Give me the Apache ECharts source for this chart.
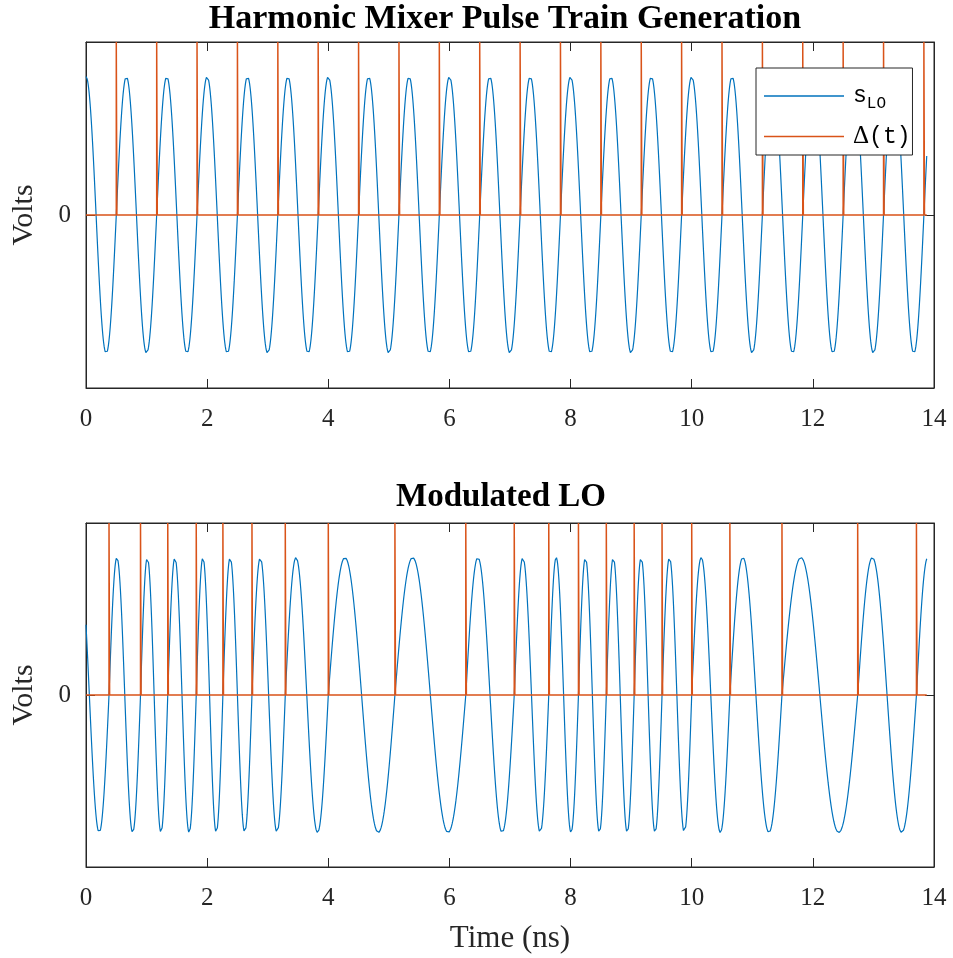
<!DOCTYPE html>
<html>
<head>
<meta charset="utf-8">
<title>Harmonic Mixer Pulse Train Generation</title>
<script src="https://cdn.jsdelivr.net/npm/echarts@6/dist/echarts.min.js"></script>
<style>
  html, body { margin: 0; padding: 0; background: #fff; }
  #chart { width: 953px; height: 958px; }
</style>
</head>
<body>
<div id="chart"></div>
<script>
// ---- data ----
const titles = ['Harmonic Mixer Pulse Train Generation', 'Modulated LO'];
const xTicks = [0, 2, 4, 6, 8, 10, 12, 14];      // ns
const yTicks = [0];                               // volts
const tEnd = 13.88;                               // last sample time, ns
const loAmplitude = 1;                            // volts
const loFreqTop = 1.5;                            // GHz, unmodulated LO
// pulse instants (rising zero crossings of the LO), ns
const pulsesTop = [0.5, 1.167, 1.833, 2.5, 3.167, 3.833, 4.5, 5.167, 5.833, 6.5,
                   7.167, 7.833, 8.5, 9.167, 9.833, 10.5, 11.167, 11.833, 12.5,
                   13.167, 13.833];
const pulsesBottom = [0.38, 0.90, 1.35, 1.82, 2.26, 2.74, 3.29, 4.00, 5.10, 6.27,
                      7.07, 7.64, 8.13, 8.59, 9.05, 9.51, 10.00, 10.63, 11.49,
                      12.74, 13.71];
const modStartLevel = 0.51;   // modulated LO at t = 0 (falling)
const modEndLevel = 0.99;     // modulated LO at t = tEnd (rising)
const pulseLevel = 1.25;
const yLimit = 1.25;

// ---- waveform construction ----
const dt = 0.004;
function sampleTimes() {
  const ts = [];
  for (let t = 0; t < tEnd; t += dt) ts.push(+t.toFixed(4));
  ts.push(tEnd);
  return ts;
}
const times = sampleTimes();

// unmodulated LO: cosine at loFreqTop
const loTop = times.map(t => [t, loAmplitude * Math.cos(2 * Math.PI * loFreqTop * t)]);

// modulated LO: phase pinned to the pulse instants (each one a rising zero crossing)
const phaseKnots = [[0, Math.acos(modStartLevel)]];
pulsesBottom.forEach((t, k) => phaseKnots.push([t, 1.5 * Math.PI + 2 * Math.PI * k]));
phaseKnots.push([tEnd, 1.5 * Math.PI + 2 * Math.PI * (pulsesBottom.length - 1) + (0.5 * Math.PI - Math.acos(modEndLevel))]);
function phaseAt(t) {
  for (let i = 1; i < phaseKnots.length; i++) {
    const [t0, p0] = phaseKnots[i - 1], [t1, p1] = phaseKnots[i];
    if (t <= t1) return p0 + (p1 - p0) * (t - t0) / (t1 - t0);
  }
  return phaseKnots[phaseKnots.length - 1][1];
}
const loBottom = times.map(t => [t, loAmplitude * Math.cos(phaseAt(t))]);

// pulse train: flat at zero with narrow spikes at each instant
const pulseWidth = 0.01;
function pulseTrain(instants) {
  const pts = [[0, 0]];
  instants.forEach(t => {
    pts.push([t, 0], [t, pulseLevel], [t + pulseWidth, pulseLevel], [t + pulseWidth, 0]);
  });
  pts.push([tEnd, 0]);
  return pts;
}

// ---- chart ----
const BLUE = '#0072BD', ORANGE = '#D95319', AXIS = '#262626';
const serif = 'Liberation Serif';
const grids = [
  { left: 86, right: 19, top: 42, height: 346 },
  { left: 86, right: 19, top: 523, height: 344 }
];

function xAxes(gi, withName) {
  const base = {
    type: 'value', gridIndex: gi, min: 0, max: 14, interval: 2,
    axisLine: { show: true, onZero: false, lineStyle: { color: AXIS, width: 1 } },
    axisTick: { show: true, inside: true, length: 9, customValues: xTicks, lineStyle: { color: AXIS } },
    splitLine: { show: false }
  };
  return [
    Object.assign({}, base, {
      position: 'bottom',
      axisLabel: { color: AXIS, fontFamily: serif, fontSize: 25, margin: 19, customValues: xTicks,
                   formatter: v => String(v) },
      name: withName ? 'Time (ns)' : '',
      nameLocation: 'middle', nameGap: 56,
      nameTextStyle: { color: AXIS, fontFamily: serif, fontSize: 31 }
    }),
    Object.assign({}, base, { position: 'top', axisLabel: { show: false } })
  ];
}
function yAxes(gi) {
  const base = {
    type: 'value', gridIndex: gi, min: -yLimit, max: yLimit, interval: yLimit,
    axisLine: { show: true, onZero: false, lineStyle: { color: AXIS, width: 1 } },
    axisTick: { show: true, inside: true, length: 9, customValues: yTicks, lineStyle: { color: AXIS } },
    splitLine: { show: false }
  };
  return [
    Object.assign({}, base, {
      position: 'left',
      axisLabel: { color: AXIS, fontFamily: serif, fontSize: 25, margin: 15, customValues: yTicks,
                   formatter: v => String(v) },
      name: 'Volts', nameLocation: 'middle', nameGap: 47, nameRotate: 90,
      nameTextStyle: { color: AXIS, fontFamily: serif, fontSize: 30 }
    }),
    Object.assign({}, base, { position: 'right', axisLabel: { show: false } })
  ];
}

const chart = echarts.init(document.getElementById('chart'), null, { renderer: 'canvas' });
chart.setOption({
  animation: false,
  backgroundColor: '#ffffff',
  title: [
    { text: titles[0], left: 500, top: -3, textAlign: 'center',
      textStyle: { fontFamily: serif, fontWeight: 'bold', fontSize: 34, color: '#000' } },
    { text: titles[1], left: 496, top: 476, textAlign: 'center',
      textStyle: { fontFamily: serif, fontWeight: 'bold', fontSize: 33, color: '#000' } }
  ],
  grid: grids.map(g => Object.assign({ show: true, borderColor: AXIS, borderWidth: 1, backgroundColor: '#fff',
                                       containLabel: false, outerBoundsMode: 'none' }, g)),
  xAxis: [...xAxes(0, false), ...xAxes(1, true)],
  yAxis: [...yAxes(0), ...yAxes(1)],
  legend: {
    data: ['s_LO', 'Δ(t)'],
    orient: 'vertical',
    left: 756, top: 68,
    backgroundColor: '#fff',
    borderColor: AXIS, borderWidth: 1,
    padding: [12, 2, 6, 8],
    itemGap: 12,
    itemWidth: 80, itemHeight: 1.5,
    icon: 'rect',
    selectedMode: false,
    formatter: name => name === 's_LO' ? '{m|s}{sub|LO}' : '{d|Δ}{m|(t)}',
    textStyle: {
      padding: [0, 0, 0, 4],
      rich: {
        m: { fontFamily: 'Liberation Mono', fontSize: 23, color: '#000', lineHeight: 26 },
        d: { fontFamily: serif, fontSize: 25, color: '#000', lineHeight: 26 },
        sub: { fontFamily: 'Liberation Mono', fontSize: 16, color: '#000', padding: [16, 0, 0, 0], lineHeight: 26 }
      }
    }
  },
  series: [
    { name: 's_LO', type: 'line', xAxisIndex: 0, yAxisIndex: 0, data: loTop,
      showSymbol: false, symbol: 'none', lineStyle: { color: BLUE, width: 1.2 }, itemStyle: { color: BLUE }, z: 2 },
    { name: 'Δ(t)', type: 'line', xAxisIndex: 0, yAxisIndex: 0, data: pulseTrain(pulsesTop),
      showSymbol: false, symbol: 'none', lineStyle: { color: ORANGE, width: 1.5 }, itemStyle: { color: ORANGE }, z: 3 },
    { name: 's_LO', type: 'line', xAxisIndex: 2, yAxisIndex: 2, data: loBottom,
      showSymbol: false, symbol: 'none', lineStyle: { color: BLUE, width: 1.2 }, itemStyle: { color: BLUE }, z: 2 },
    { name: 'Δ(t)', type: 'line', xAxisIndex: 2, yAxisIndex: 2, data: pulseTrain(pulsesBottom),
      showSymbol: false, symbol: 'none', lineStyle: { color: ORANGE, width: 1.5 }, itemStyle: { color: ORANGE }, z: 3 }
  ]
});
</script>
</body>
</html>
